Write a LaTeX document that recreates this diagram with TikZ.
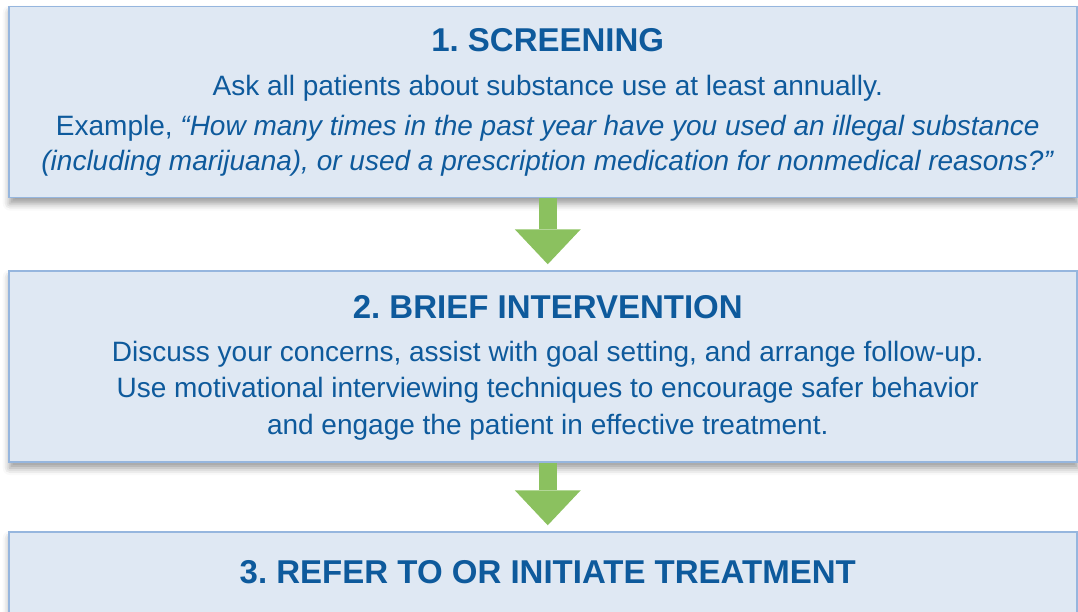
\documentclass[tikz,border=0pt]{standalone}
\usepackage{fontspec}
\setmainfont{Liberation Sans}
\usetikzlibrary{positioning,arrows.meta,shadows.blur}
\frenchspacing

\definecolor{boxfill}{RGB}{223,232,243}
\definecolor{boxline}{RGB}{150,182,222}
\definecolor{sbirtblue}{RGB}{14,90,156}
\definecolor{arrowgreen}{RGB}{139,193,95}

\begin{document}
\begin{tikzpicture}[x=1pt,y=1pt,node distance=72pt,
    stagebox/.style={draw=boxline, fill=boxfill, line width=1.5pt, rectangle,
      minimum width=1068pt, minimum height=191pt, inner sep=0pt,
      blur shadow={shadow xshift=1pt, shadow yshift=-6pt,
        shadow blur radius=7pt, shadow opacity=40}},
    title/.style={anchor=base, text=sbirtblue,
      font=\fontsize{33}{40}\selectfont\bfseries},
    body/.style={anchor=base, text=sbirtblue,
      font=\fontsize{28}{34}\selectfont},
    flow/.style={draw=arrowgreen, line width=18pt, shorten >=6pt,
      -{Triangle[width=66pt,length=35pt,line width=0pt]}}]
  \useasboundingbox (0,0) rectangle (1078,-611);

 \node[stagebox] (scr) at (542.75,-102) {};
 \node[stagebox, below=of scr] (bi) {};
 \node[stagebox, below=68.5pt of bi] (rt) {};

 % screening
 \node[title] (scrT) at ([shift={(5pt,50.3pt)}]scr.center) {1. SCREENING};
 \node[body] (scrA) at ([shift={(5pt,7pt)}]scr.center)
   {Ask all patients about substance use at least annually.};
 \node[body] (scrB) at ([shift={(5pt,-33pt)}]scr.center)
   {Example, \textit{“How many times in the past year have you used an illegal substance}};
 \node[body] (scrC) at ([shift={(5pt,-68pt)}]scr.center)
   {\textit{(including marijuana), or used a prescription medication for nonmedical reasons?”}};

 % brief intervention
 \node[title] (biT) at ([shift={(5pt,48.2pt)}]bi.center) {2. BRIEF INTERVENTION};
 \node[body] (biA) at ([shift={(5pt,5.5pt)}]bi.center)
   {Discuss your concerns, assist with goal setting, and arrange follow-up.};
 \node[body] (biB) at ([shift={(5pt,-30.5pt)}]bi.center)
   {Use motivational interviewing techniques to encourage safer behavior};
 \node[body] (biC) at ([shift={(5pt,-67.5pt)}]bi.center)
   {and engage the patient in effective treatment.};

 % treatment
 \node[title] (rtT) at ([shift={(5pt,44.5pt)}]rt.center) {3. REFER TO OR INITIATE TREATMENT};

 \draw[flow] ([xshift=5pt]scr.south) -- ([xshift=5pt]bi.north);
 \draw[flow] ([xshift=5pt]bi.south) -- ([xshift=5pt]rt.north);

\end{tikzpicture}
\end{document}
